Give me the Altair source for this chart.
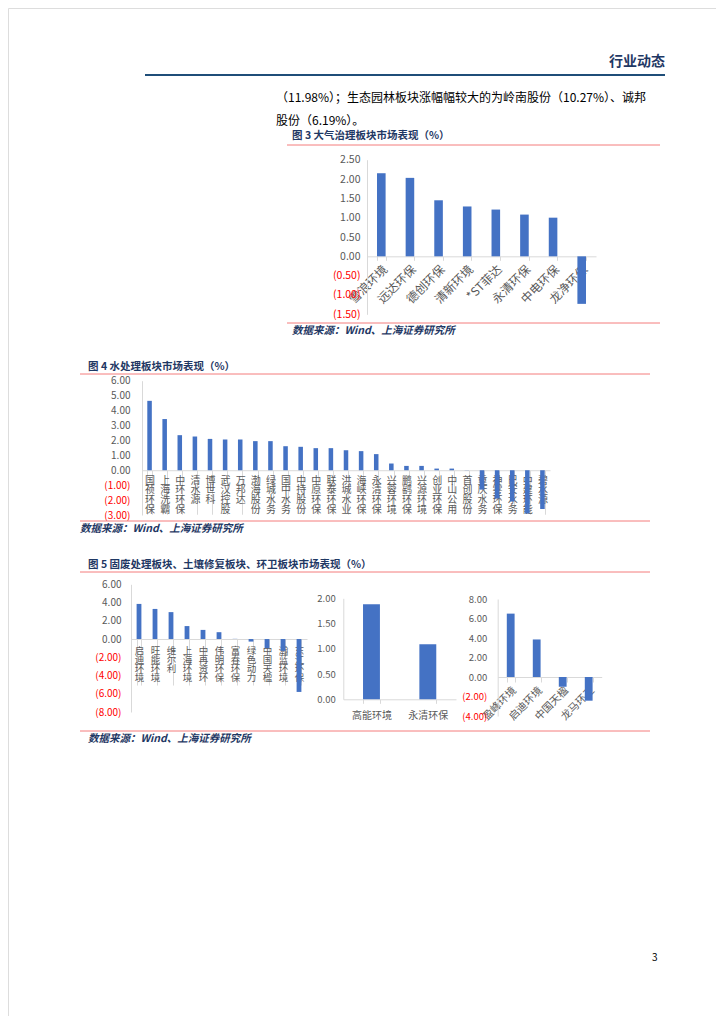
import altair as alt
import pandas as pd

# ---------------- data ----------------
air_names = ["雪浪环境", "远达环保", "德创环保", "清新环境", "*ST菲达", "永清环保", "中电环保", "龙净环保"]
air_vals = [2.15, 2.03, 1.45, 1.29, 1.21, 1.08, 1.00, -1.23]

water_names = ["国祯环保", "上海洗霸", "中环环保", "清水源", "博世科", "武汉控股", "万邦达",
               "渤海股份", "绿城水务", "国中水务", "中持股份", "中原环保", "联泰环保", "洪城水业",
               "海峡环保", "永清环保", "兴蓉环境", "鹏鹞环保", "兴源环境", "创业环保", "中山公用",
               "首创股份", "重庆水务", "神雾环保", "巴安水务", "中建环能", "碧水源"]
water_vals = [4.65, 3.43, 2.35, 2.26, 2.10, 2.06, 2.06, 1.95, 1.95, 1.61, 1.57, 1.48, 1.48, 1.34,
              1.28, 1.08, 0.45, 0.29, 0.29, 0.11, 0.11, 0.01, -1.3, -1.9, -2.1, -2.9, -2.6]

waste_names = ["启迪环境", "旺能环境", "维尔利", "上海环境", "中再资环", "伟明环保", "富春环保",
               "绿色动力", "中国天楹", "瀚蓝环境", "东江环保"]
waste_vals = [3.85, 3.30, 2.95, 1.42, 1.00, 0.75, 0.02, -0.28, -1.00, -1.30, -5.80]

soil_names = ["高能环境", "永清环保"]
soil_vals = [1.88, 1.09]

sanit_names = ["盈峰环境", "启迪环境", "中国天楹", "龙马环卫"]
sanit_vals = [6.50, 3.85, -1.00, -2.43]

air_ticks = [-1.5, -1.0, -0.5, 0.0, 0.5, 1.0, 1.5, 2.0, 2.5]
water_ticks = [-3, -2, -1, 0, 1, 2, 3, 4, 5, 6]
waste_ticks = [-8, -6, -4, -2, 0, 2, 4, 6]
soil_ticks = [0, 0.5, 1.0, 1.5, 2.0]
sanit_ticks = [-4, -2, 0, 2, 4, 6, 8]

para1 = "（11.98%）；生态园林板块涨幅幅较大的为岭南股份（10.27%）、诚邦"
para2 = "股份（6.19%）。"
header = "行业动态"
title3 = "图 3 大气治理板块市场表现（%）"
title4 = "图 4 水处理板块市场表现（%）"
title5 = "图 5 固废处理板块、土壤修复板块、环卫板块市场表现（%）"
source = "数据来源：Wind、上海证券研究所"

# ---------------- style ----------------
W, H = 708, 1008
BLUE = "#4472C4"
GRAY = "#595959"
AXC = "#D9D9D9"
RED = "#FF0000"
NAVY = "#1F3864"
LRED = "#F47C7C"
FONT = "Noto Sans CJK SC"
YEXPR = "datum.value < 0 ? '(' + format(-datum.value, '.2f') + ')' : format(datum.value, '.2f')"
EMPTY = alt.Data(values=[{}])


def P(v):
    return v - 8


def panel(names, vals, xr, yd, yr, yticks, ypad, yfs, xaxis):
    df = pd.DataFrame({"name": names, "val": vals})
    x_axis = dict(orient="bottom", offset=P(yr_zero(yd, yr)) - H, title=None, domainColor=AXC,
                  tickColor=AXC, tickBand="extent", labelColor=GRAY, labelFont=FONT,
                  labelOverlap=False, grid=False)
    x_axis.update(xaxis)
    return alt.Chart(df).mark_bar(color=BLUE).encode(
        x=alt.X("name:N", sort=None,
                scale=alt.Scale(range=[P(xr[0]), P(xr[1])], paddingInner=0.7, paddingOuter=0.35),
                axis=alt.Axis(**x_axis)),
        y=alt.Y("val:Q",
                scale=alt.Scale(domain=yd, range=[P(yr[0]), P(yr[1])], nice=False),
                axis=alt.Axis(orient="left", offset=-P(xr[0]), title=None, values=yticks,
                              labelExpr=YEXPR,
                              labelColor={"condition": {"test": "datum.value < 0", "value": RED},
                                          "value": GRAY},
                              domainColor=AXC, ticks=False, grid=False, labelPadding=ypad,
                              labelFontSize=yfs, labelFont=FONT)),
    )


def yr_zero(yd, yr):
    # pixel (page) position of value 0 in a linear range
    return yr[0] + (0 - yd[0]) / (yd[1] - yd[0]) * (yr[1] - yr[0])


def txt(s, x, y, size, color, weight="normal", align="left", style="normal"):
    return alt.Chart(EMPTY).mark_text(
        text=s, align=align, baseline="middle", fontSize=size, color=color,
        fontWeight=weight, fontStyle=style, font=FONT
    ).encode(x=alt.value(P(x)), y=alt.value(P(y)))


def hline(x0, x1, y, color, w=1):
    return alt.Chart(EMPTY).mark_rule(color=color, strokeWidth=w).encode(
        x=alt.value(P(x0)), x2=alt.value(P(x1)), y=alt.value(P(y)))


vert = dict(labelExpr="split(datum.label, '')", labelAngle=0, labelAlign="center",
            labelBaseline="top", labelLineHeight=9.6, labelFontSize=10,
            tickSize=44, labelPadding=-39)

c3 = panel(air_names, air_vals, [367, 596], [-1.5, 2.5], [314.3, 159.7], air_ticks, 7, 10.5,
           dict(labelAngle=315, labelAlign="right", labelBaseline="top", labelFontSize=12,
                tickSize=4, labelPadding=3))
c4 = panel(water_names, water_vals, [142, 550], [-3, 6], [515, 380.7], water_ticks, 12, 10, vert)
c5a = panel(waste_names, waste_vals, [131, 307], [-8, 6], [712, 584.3], waste_ticks, 10, 10,
            dict(vert, labelLineHeight=9.3, labelFontSize=9.5, tickSize=46, labelPadding=-40))
c5b = panel(soil_names, soil_vals, [343.3, 456], [0, 2], [699.3, 598.3], soil_ticks, 8, 9.5,
            dict(labelAngle=0, labelFontSize=10, tickSize=4, labelPadding=7))
c5c = panel(sanit_names, sanit_vals, [497.7, 601.7], [-4, 8], [716, 599], sanit_ticks, 11, 9.5,
            dict(labelAngle=315, labelAlign="right", labelBaseline="top", labelFontSize=10.5,
                 tickSize=5, labelPadding=3))

deco = [
    txt(header, 665, 62, 14, NAVY, weight="bold", align="right"),
    hline(145, 665, 75, "#1F4E79", 2),
    txt(para1, 276, 98, 12, "#000000"),
    txt(para2, 276, 121, 12, "#000000"),
    txt(title3, 292, 136, 10.5, NAVY, weight="bold"),
    hline(287, 660, 145, LRED),
    hline(287, 660, 323, LRED),
    txt(source, 292, 331, 10.5, NAVY, weight="bold", style="italic"),
    txt(title4, 88, 367, 10.5, NAVY, weight="bold"),
    hline(80, 650, 374, LRED),
    hline(80, 650, 521, LRED),
    txt(source, 80, 529, 10.5, NAVY, weight="bold", style="italic"),
    txt(title5, 88, 565, 10.5, NAVY, weight="bold"),
    hline(80, 650, 572, LRED),
    hline(80, 650, 731, LRED),
    txt(source, 88, 739, 10.5, NAVY, weight="bold", style="italic"),
    txt("3", 652, 958, 10, "#000000"),
]

chart = alt.layer(c3, c4, c5a, c5b, c5c, *deco).resolve_scale(
    x="independent", y="independent"
).properties(
    width=W, height=H, padding=0, autosize=alt.AutoSizeParams(type="none")
).configure_view(stroke=None).configure(background="white")

chart.save("out.html", embed_options={"renderer": "svg", "actions": False})
